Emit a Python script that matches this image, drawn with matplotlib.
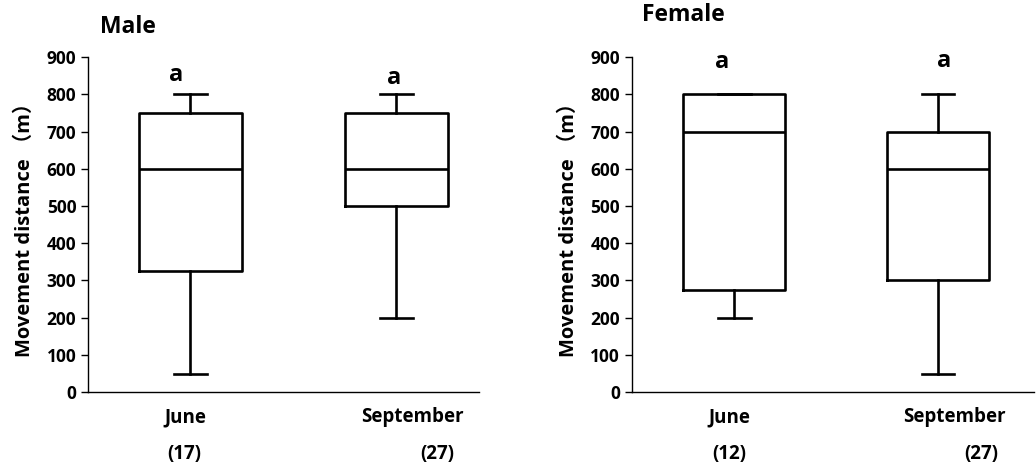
import matplotlib.pyplot as plt

plt.rcParams['font.family'] = ['Open Sans', 'Noto Sans CJK SC', 'DejaVu Sans']
plt.rcParams['font.weight'] = 'bold'

months = ['June', 'September']
male_n = ['(17)', '(27)']
female_n = ['(12)', '(27)']

# five-number summaries: whisker low, q1, median, q3, whisker high
male_stats = [[50, 325, 600, 750, 800], [200, 500, 600, 750, 800]]
female_stats = [[200, 275, 700, 800, 800], [50, 300, 600, 700, 800]]
letters = ['a', 'a']


def draw_panel(ax, stats, ns, title, xlim, title_xy, letter_x, letter_y, n_x):
    bxp = []
    for lo, q1, med, q3, hi in stats:
        bxp.append({'whislo': lo, 'q1': q1, 'med': med, 'q3': q3, 'whishi': hi, 'fliers': []})
    lw = 1.9
    ax.bxp(bxp, positions=[1, 2], widths=0.5, capwidths=0.16, showfliers=False,
           boxprops=dict(color='black', linewidth=lw),
           whiskerprops=dict(color='black', linewidth=lw),
           capprops=dict(color='black', linewidth=lw),
           medianprops=dict(color='black', linewidth=lw))
    ax.set_xlim(*xlim)
    ax.set_ylim(0, 900)
    ax.set_yticks(range(0, 901, 100))
    ax.tick_params(axis='y', labelsize=12.5, length=5, width=1)
    ax.set_xticks([])
    for s in ['top', 'right']:
        ax.spines[s].set_visible(False)
    for s in ['left', 'bottom']:
        ax.spines[s].set_linewidth(1)
    ax.set_ylabel('Movement distance （m）', fontsize=14.5, fontweight='bold', labelpad=8)
    for i, l in enumerate(letters):
        ax.text(letter_x[i], letter_y[i], l, ha='center', va='center',
                fontsize=17, fontweight='bold')
    tr = ax.get_xaxis_transform()
    for i, m in enumerate(months):
        ax.text(n_x[i][0], -0.075, m, transform=tr, ha='center', va='center',
                fontsize=13.5, fontweight='bold')
        ax.text(n_x[i][1], -0.185, ns[i], transform=tr, ha='center', va='center',
                fontsize=13.5, fontweight='bold')
    ax.text(title_xy[0], title_xy[1], title, transform=ax.figure.transFigure,
            ha='left', va='center', fontsize=16.5, fontweight='bold')


fig = plt.figure(figsize=(10.36, 4.68), dpi=100)
ax1 = fig.add_axes([0.085, 0.162, 0.377, 0.716])
ax2 = fig.add_axes([0.610, 0.162, 0.388, 0.716])

draw_panel(ax1, male_stats, male_n, 'Male', (0.505, 2.4), (0.097, 0.942),
           [0.93, 1.99], [852, 845], [(0.976, 0.97), (2.078, 2.2)])
draw_panel(ax2, female_stats, female_n, 'Female', (0.498, 2.47), (0.620, 0.968),
           [0.94, 2.03], [888, 890], [(0.976, 0.976), (2.078, 2.21)])

fig.savefig('out.png', dpi=100)
